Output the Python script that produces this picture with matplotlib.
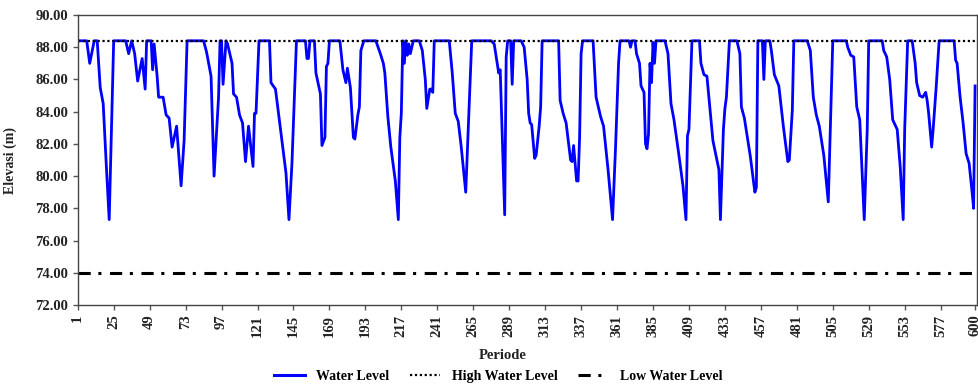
import numpy as np
import matplotlib.pyplot as plt
from matplotlib.lines import Line2D

plt.rcParams['font.family'] = ['Liberation Serif', 'DejaVu Serif']
plt.rcParams['font.weight'] = 'bold'

# Data (turning points of the water level curve)
periode = [1, 7, 9, 12, 14, 16, 18, 20, 22, 23, 25, 33, 35, 37, 39, 41, 44, 46, 47, 50,
           51, 52, 54, 55, 58, 60, 62, 64, 67, 70, 72, 74, 85, 87, 90, 92, 95, 96, 97, 98,
           100, 101, 104, 105, 107, 109, 111, 113, 115, 118, 119, 120, 122, 129, 130, 133, 137, 140, 142, 144,
           147, 153, 154, 155, 156, 159, 160, 163, 164, 166, 167, 168, 169, 176, 178, 180, 181, 183, 185, 186,
           188, 189, 190, 192, 200, 203, 205, 206, 208, 210, 213, 215, 216, 217, 218, 219, 220, 221, 222, 223,
           225, 229, 231, 233, 234, 236, 237, 238, 239, 249, 251, 253, 255, 257, 260, 263, 264, 277, 279, 281,
           282, 283, 286, 287, 288, 290, 291, 292, 297, 299, 301, 302, 303, 304, 306, 307, 309, 310, 311, 322,
           323, 325, 327, 330, 331, 332, 334, 335, 336, 337, 338, 345, 347, 350, 352, 355, 358, 360, 362, 363,
           369, 370, 371, 373, 374, 376, 377, 379, 380, 381, 382, 383, 384, 385, 386, 387, 393, 395, 397, 399,
           402, 405, 407, 408, 409, 411, 416, 417, 419, 421, 425, 429, 430, 432, 433, 434, 436, 441, 443, 444,
           446, 450, 453, 454, 455, 458, 459, 460, 463, 464, 466, 469, 472, 475, 476, 478, 479, 488, 490, 492,
           494, 496, 499, 502, 505, 514, 515, 517, 519, 521, 523, 526, 528, 529, 538, 539, 541, 543, 545, 548,
           550, 552, 553, 555, 558, 560, 561, 563, 565, 567, 568, 569, 571, 572, 574, 576, 586, 587, 588, 590,
           592, 594, 596, 598, 599, 600]
water_level = [88.4, 88.4, 87.0, 88.4, 88.4, 85.5, 84.5, 80.8, 77.3, 81.0, 88.4, 88.4, 87.6, 88.4, 87.6, 85.9, 87.3, 85.4, 88.4, 88.4,
               86.6, 88.2, 86.2, 84.9, 84.9, 83.8, 83.6, 81.8, 83.1, 79.4, 82.2, 88.4, 88.4, 87.7, 86.2, 80.0, 84.9, 88.4, 88.4, 85.7,
               88.4, 88.2, 87.0, 85.1, 84.9, 83.8, 83.3, 80.9, 83.1, 80.6, 83.9, 83.9, 88.4, 88.4, 85.8, 85.4, 82.4, 80.2, 77.3, 80.8,
               88.4, 88.4, 87.3, 87.3, 88.4, 88.4, 86.4, 85.1, 81.9, 82.4, 86.8, 87.0, 88.4, 88.4, 86.6, 85.8, 86.7, 85.5, 82.4, 82.3,
               83.8, 84.3, 87.8, 88.4, 88.4, 87.6, 87.0, 86.4, 83.7, 81.8, 79.7, 77.3, 82.4, 83.9, 88.4, 87.0, 88.4, 87.5, 88.2, 87.6,
               88.4, 88.4, 87.8, 86.0, 84.2, 85.4, 85.4, 85.2, 88.4, 88.4, 86.4, 83.9, 83.4, 81.8, 79.0, 86.0, 88.4, 88.4, 88.2, 87.0,
               86.4, 86.6, 77.6, 87.4, 88.4, 88.4, 85.7, 88.4, 88.4, 88.0, 86.0, 83.9, 83.3, 83.2, 81.1, 81.3, 83.1, 84.3, 88.4, 88.4,
               84.7, 83.9, 83.3, 81.0, 80.9, 81.9, 79.7, 79.7, 82.4, 87.6, 88.4, 88.4, 84.9, 83.7, 83.1, 80.4, 77.3, 81.8, 87.0, 88.4,
               88.4, 88.0, 88.4, 88.4, 87.6, 87.0, 85.6, 85.2, 82.0, 81.7, 82.6, 87.0, 85.8, 88.3, 87.0, 88.4, 88.4, 87.6, 84.5, 83.5,
               81.5, 79.4, 77.3, 82.5, 82.9, 88.4, 88.4, 87.0, 86.3, 86.2, 82.2, 80.4, 77.3, 82.9, 84.2, 84.9, 88.4, 88.4, 87.6, 84.3,
               83.6, 81.2, 79.0, 79.3, 88.4, 88.4, 86.0, 88.4, 88.4, 87.8, 86.3, 85.6, 83.1, 80.9, 81.0, 84.1, 88.4, 88.4, 87.8, 84.9,
               83.8, 83.1, 81.3, 78.4, 88.4, 88.4, 88.0, 87.5, 87.4, 84.3, 83.5, 77.3, 82.9, 88.4, 88.4, 87.8, 87.4, 86.0, 83.5, 82.9,
               80.6, 77.3, 82.9, 88.4, 88.4, 87.0, 85.8, 85.0, 84.9, 85.2, 84.7, 83.9, 81.8, 82.9, 85.5, 88.4, 88.4, 87.2, 87.0, 84.9,
               83.3, 81.4, 80.8, 79.0, 78.0, 85.6]
high_water_level = 88.4
low_water_level = 74.0
x_ticks = list(range(1, 578, 24)) + [600]
y_ticks = np.arange(72, 90.1, 2)

dotted = (0, (1, 1.2))
dashdot = (0, (4, 2.5, 1, 2.8))

fig = plt.figure(figsize=(9.79, 3.86), dpi=100)
ax = fig.add_axes([0.0794, 0.2098, 0.9186, 0.7513])

ax.plot(periode, water_level, color='#0000FF', lw=2.0, label='Water Level')
ax.axhline(high_water_level, color='black', lw=1.6, linestyle=dotted, label='High Water Level')
ax.axhline(low_water_level, color='black', lw=2.2, linestyle=dashdot, label='Low Water Level')

ax.set_xlim(1, 601.3)
ax.set_ylim(72, 90)
ax.set_xticks(x_ticks)
ax.set_xticklabels([str(t) for t in x_ticks], rotation=90, fontsize=10.5, fontweight='bold')
ax.set_yticks(y_ticks)
ax.set_yticklabels(['%.2f' % v for v in y_ticks], fontsize=10.5, fontweight='bold')
ax.tick_params(direction='out', length=3.5, width=1, colors='#555555', labelcolor='#222222')
for s in ax.spines.values():
    s.set_color('#444444')
    s.set_linewidth(1)

ax.set_ylabel('Elevasi (m)', fontsize=10, fontweight='bold', color='#222222')
ax.yaxis.set_label_coords(-0.068, 0.5)
ax.set_xlabel('Periode', fontsize=10.5, fontweight='bold', color='#222222')
ax.xaxis.set_label_coords(0.473, -0.15)

handles = [Line2D([], [], color='#0000FF', lw=2.2),
           Line2D([], [], color='black', lw=1.6, linestyle=dotted),
           Line2D([], [], color='black', lw=2.2, linestyle=dashdot)]
fig.legend(handles, ['Water Level', 'High Water Level', 'Low Water Level'],
           loc='center', bbox_to_anchor=(0.509, 0.025), ncol=3, frameon=False,
           handlelength=2.2, columnspacing=1.5, prop={'weight': 'bold', 'size': 10})

fig.savefig('out.png', dpi=100)
